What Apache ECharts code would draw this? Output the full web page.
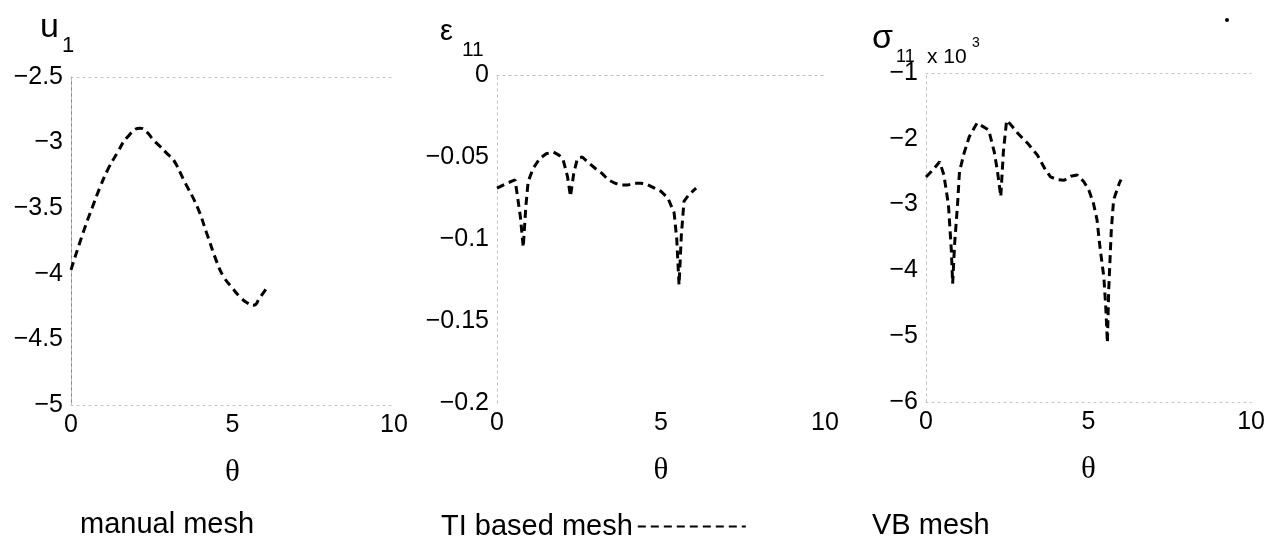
<!DOCTYPE html>
<html>
<head>
<meta charset="utf-8">
<script src="https://cdn.jsdelivr.net/npm/echarts@6/dist/echarts.min.js"></script>
<style>
  html, body { margin: 0; padding: 0; background: #fff; }
  #chart { width: 1268px; height: 539px; }
</style>
</head>
<body>
<div id="chart"></div>
<script>
// panel 1: u1 vs theta (manual mesh)
const theta1 = [0, 0.37, 0.65, 0.9, 1.15, 1.43, 1.74, 2.14, 2.35, 2.55, 2.76, 3.0, 3.17, 3.5, 3.91, 4.2, 4.53, 4.72, 5.0, 5.25, 5.45, 5.65, 5.85, 6.08];
const u1 = [-3.97, -3.69, -3.50, -3.34, -3.20, -3.08, -2.96, -2.89, -2.92, -2.98, -3.03, -3.09, -3.13, -3.29, -3.49, -3.69, -3.92, -4.02, -4.11, -4.18, -4.22, -4.24, -4.18, -4.10];

// panel 2: eps11 vs theta (TI based mesh)
const theta2 = [0, 0.3, 0.55, 0.61, 0.71, 0.8, 0.88, 0.95, 1.1, 1.3, 1.5, 1.72, 1.9, 2.02, 2.15, 2.24, 2.34, 2.45, 2.6, 2.76, 3.0, 3.2, 3.4, 3.6, 3.8, 4.0, 4.2, 4.4, 4.6, 4.8, 5.0, 5.21, 5.4, 5.48, 5.55, 5.62, 5.7, 5.85, 6.07];
const eps11 = [-0.069, -0.066, -0.064, -0.072, -0.086, -0.105, -0.08, -0.065, -0.057, -0.051, -0.048, -0.047, -0.049, -0.052, -0.062, -0.074, -0.06, -0.051, -0.050, -0.053, -0.057, -0.060, -0.064, -0.066, -0.067, -0.067, -0.066, -0.066, -0.067, -0.069, -0.071, -0.075, -0.084, -0.1, -0.128, -0.098, -0.077, -0.073, -0.069];

// panel 3: sigma11 x 10^3 vs theta (VB mesh)
const theta3 = [0, 0.2, 0.42, 0.55, 0.69, 0.78, 0.82, 0.88, 0.97, 1.03, 1.17, 1.33, 1.57, 1.84, 1.93, 2.1, 2.2, 2.3, 2.38, 2.48, 2.6, 2.83, 3.13, 3.43, 3.65, 3.83, 4.05, 4.25, 4.45, 4.65, 4.85, 5.01, 5.15, 5.26, 5.35, 5.47, 5.53, 5.58, 5.62, 5.66, 5.7, 5.77, 5.95, 6.0];
const sigma11 = [-2.58, -2.48, -2.35, -2.55, -3.0, -3.7, -4.2, -3.6, -3.0, -2.5, -2.22, -1.97, -1.76, -1.84, -1.87, -2.2, -2.5, -2.88, -2.2, -1.72, -1.78, -1.92, -2.07, -2.25, -2.45, -2.58, -2.62, -2.63, -2.57, -2.55, -2.65, -2.78, -2.98, -3.23, -3.64, -4.1, -4.56, -5.1, -4.3, -3.84, -3.39, -2.93, -2.67, -2.62];

// axis ranges
const xTicks = [0, 10, 5];
const yRanges = [[-5, -2.5, 0.5], [-0.2, 0, 0.05], [-6, -1, 1]];

const FONT = '"Liberation Sans", Arial, sans-serif';
const grids = [
    { left: 71, top: 77, width: 323, height: 328 },
    { left: 497, top: 75, width: 328, height: 328 },
    { left: 926, top: 73, width: 330, height: 329 },
];

const faint = { show: true, lineStyle: { color: '#c4c4c4', width: 1, type: [2, 4] } };
const minus = (v) => String(+(+v).toFixed(4)).replace('-', '\u2212');

const xAxes = [];
const yAxes = [];
grids.forEach((g, i) => {
    xAxes.push({
        type: 'value', gridIndex: i, min: xTicks[0], max: xTicks[1], interval: xTicks[2],
        axisLine: faint, axisTick: { show: false }, splitLine: { show: false },
        axisLabel: { color: '#000', fontSize: 25, fontFamily: FONT, margin: 8 },
        name: 'θ', nameLocation: 'middle', nameGap: 52,
        nameTextStyle: { color: '#000', fontSize: 31, fontFamily: '"Liberation Serif", serif' },
    });
    xAxes.push({
        type: 'value', gridIndex: i, position: 'top', min: xTicks[0], max: xTicks[1], interval: xTicks[2],
        axisLine: faint, axisTick: { show: false }, splitLine: { show: false }, axisLabel: { show: false },
    });
    const r = yRanges[i];
    yAxes.push({
        type: 'value', gridIndex: i, min: r[0], max: r[1], interval: r[2],
        axisLine: i === 0 ? { show: true, lineStyle: { color: '#8a8a8a', width: 1 } } : faint,
        axisTick: { show: false }, splitLine: { show: false },
        axisLabel: { color: '#000', fontSize: 25, fontFamily: FONT, margin: 8, formatter: minus },
    });
    yAxes.push({
        type: 'value', gridIndex: i, position: 'right', min: r[0], max: r[1], interval: r[2],
        axisLine: faint, axisTick: { show: false }, splitLine: { show: false }, axisLabel: { show: false },
    });
});

const dashed = { color: '#000', width: 3, type: [8, 5] };
const pairs = (xs, ys) => xs.map((x, i) => [x, ys[i]]);

const txt = (x, y, text, size, family) => ({
    type: 'text', x: x, y: y,
    style: { text: text, fill: '#000', font: size + 'px ' + (family || FONT), verticalAlign: 'top' },
});

const chart = echarts.init(document.getElementById('chart'));
chart.setOption({
    animation: false,
    backgroundColor: '#fff',
    grid: grids,
    xAxis: xAxes,
    yAxis: yAxes,
    legend: {
        data: ['TI based mesh'],
        left: 436, top: 507, align: 'right',
        itemWidth: 108, itemHeight: 34, itemGap: 0,
        textStyle: { color: '#000', fontSize: 29, fontFamily: FONT },
        itemStyle: { opacity: 0 },
        lineStyle: { type: 'inherit' },
    },
    graphic: [
        txt(40, 11, 'u', 34),
        txt(62, 35, '1', 22),
        txt(440, 17, 'ε', 29),
        txt(462, 40, '11', 21),
        txt(872, 22, 'σ', 34),
        txt(896, 48, '11', 18),
        txt(927, 47, 'x 10', 21),
        txt(972, 36, '3', 14),
        txt(80, 510, 'manual mesh', 29),
        txt(872, 511, 'VB mesh', 29),
        { type: 'circle', x: 1227, y: 20, shape: { r: 2 }, style: { fill: '#000' } },
    ],
    series: [
        {
            name: 'manual mesh', type: 'line', xAxisIndex: 0, yAxisIndex: 0,
            data: pairs(theta1, u1), symbol: 'none', smooth: 0.5, lineStyle: dashed,
        },
        {
            name: 'TI based mesh', type: 'line', xAxisIndex: 2, yAxisIndex: 2,
            data: pairs(theta2, eps11), symbol: 'none', lineStyle: dashed,
        },
        {
            name: 'VB mesh', type: 'line', xAxisIndex: 4, yAxisIndex: 4,
            data: pairs(theta3, sigma11), symbol: 'none', lineStyle: dashed,
        },
    ],
});
</script>
</body>
</html>
